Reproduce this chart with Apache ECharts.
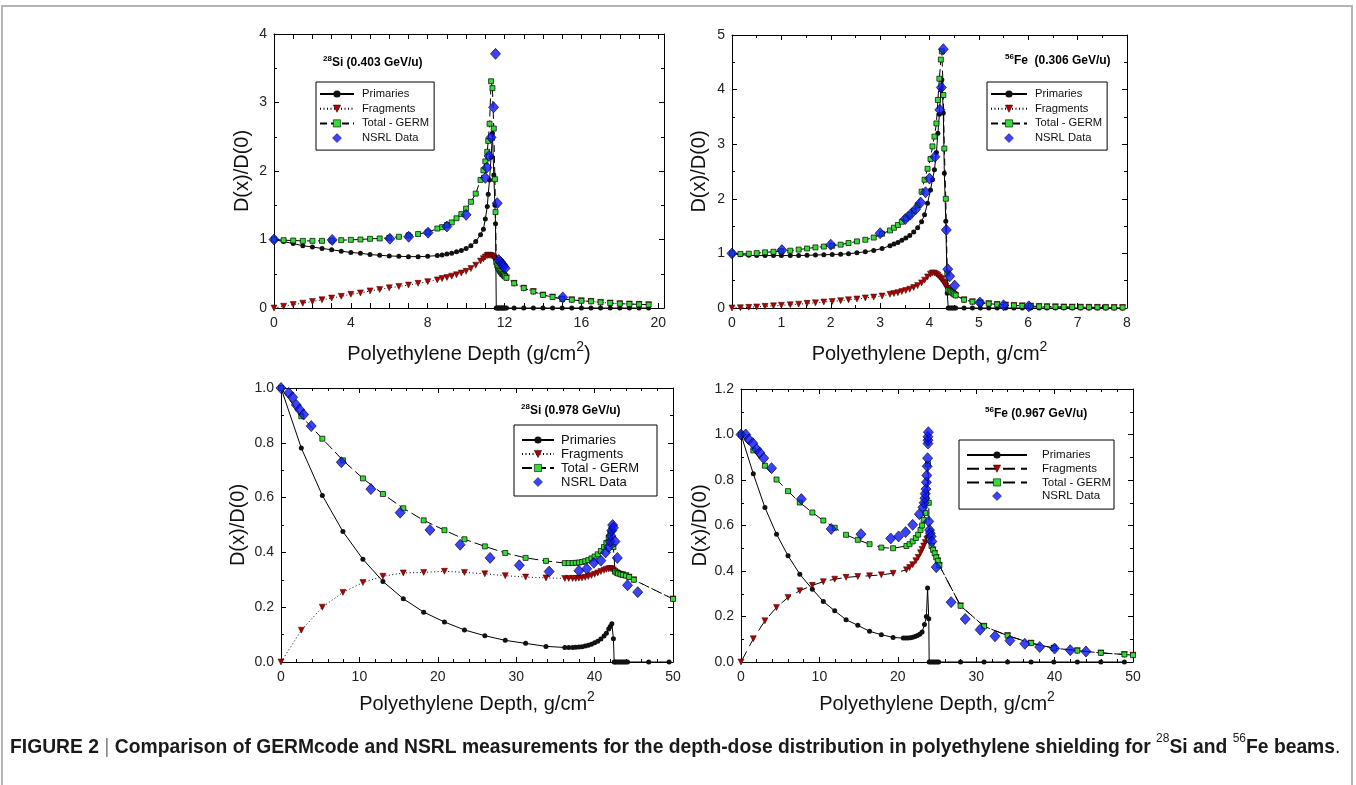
<!DOCTYPE html>
<html><head><meta charset="utf-8">
<script src="https://cdn.jsdelivr.net/npm/echarts@6/dist/echarts.min.js"></script>
<style>html,body{margin:0;padding:0;background:#fff}#c{width:1356px;height:785px}</style>
</head><body><div id="c"></div><script>
// ---------- Panel A: 28Si 0.403 GeV/u ----------
const siLowX = [0,0.5,1,1.5,2,2.5,3,3.5,4,4.5, 5,5.5,6,6.5,7,7.5,8,8.5,8.75,9, 9.25,9.5,9.75,10,10.25,10.5,10.75,10.9,11.0,11.1, 11.15,11.22,11.3,11.37,11.44,11.5,11.53,11.57, 11.62,11.67,11.72,11.77,11.82,11.87,11.92,11.97,12.02,12.1, 12.5,13,13.5,14,14.5,15,15.5,16,16.5,17, 17.5,18,18.5,19,19.5];
const siLowPrim = [1.0,0.97,0.94,0.91,0.89,0.87,0.85,0.83,0.81,0.80, 0.78,0.77,0.76,0.755,0.75,0.75,0.755,0.765,0.775,0.79, 0.80,0.82,0.84,0.87,0.91,0.97,1.07,1.15,1.30,1.48, 1.66,1.87,2.2,2.55,1.94,1.5,1.23,0, 0,0,0,0,0,0,0,0,0,0, 0,0,0,0,0,0,0,0,0,0, 0,0,0,0,0];
const siLowFrag = [0,0.025,0.05,0.07,0.095,0.12,0.145,0.17,0.2,0.22, 0.25,0.27,0.295,0.315,0.335,0.36,0.385,0.41,0.43,0.445, 0.465,0.485,0.51,0.535,0.575,0.625,0.685,0.72,0.745,0.765, 0.77,0.77,0.765,0.755,0.74,0.72,0.70,0.67, 0.62,0.59,0.56,0.54,0.52,0.50,0.49,0.475,0.46,0.44, 0.36,0.29,0.24,0.19,0.16,0.13,0.12,0.105,0.097,0.082, 0.073,0.063,0.058,0.053,0.048];
const siLowTot = [1.0,0.99,0.985,0.98,0.98,0.98,0.985,0.99,0.995,1.0, 1.01,1.015,1.025,1.04,1.06,1.08,1.105,1.16,1.18,1.21, 1.25,1.31,1.37,1.45,1.55,1.67,1.87,2.01,2.14,2.28, 2.44,2.69,3.31,3.21,2.62,1.88,1.4,0.67, 0.62,0.59,0.56,0.54,0.52,0.50,0.49,0.475,0.46,0.44, 0.36,0.29,0.24,0.19,0.16,0.13,0.12,0.105,0.097,0.082, 0.073,0.063,0.058,0.053,0.048];
const siLowNsrlX = [0,3.03,6.03,7.01,8.02,9.0,10.0,11.0,11.08,11.19,11.3,11.43,11.53,11.62,11.7,11.79,11.88,11.95,12.03,15.03];
const siLowNsrlY = [1.0,0.994,1.01,1.04,1.1,1.19,1.36,1.9,2.05,2.22,2.49,2.93,3.71,1.53,0.70,0.67,0.64,0.61,0.58,0.155];
const siLowXTicks = [0,4,8,12,16,20];
const siLowYTicks = [0,1,2,3,4];

// ---------- Panel B: 56Fe 0.306 GeV/u ----------
const feLowX = [0,0.17,0.34,0.5,0.67,0.84,1.0,1.18,1.35,1.52, 1.69,1.86,2.03,2.2,2.36,2.53,2.7,2.87,3.04,3.2, 3.28,3.36,3.44,3.52,3.6,3.68,3.76,3.84,3.9,3.96, 4.02,4.06,4.1,4.14,4.17,4.2,4.23,4.25,4.28,4.3, 4.33,4.36,4.38,4.41,4.44,4.47,4.5,4.53,4.7,4.87, 5.03,5.2,5.37,5.54,5.71,5.88,6.05,6.22,6.38,6.55, 6.72,6.89,7.06,7.23,7.4,7.57,7.74,7.91];
const feLowPrim = [1.0,0.976,0.965,0.96,0.96,0.96,0.96,0.96,0.96,0.965, 0.97,0.975,0.98,0.985,0.995,1.01,1.03,1.055,1.09,1.14, 1.17,1.2,1.24,1.28,1.33,1.39,1.47,1.58,1.71,1.92, 2.16,2.35,2.53,2.85,3.2,3.55,4.0,4.18,3.57,2.47, 1.59,0.27,0,0,0,0,0,0,0,0, 0,0,0,0,0,0,0,0,0,0, 0,0,0,0,0,0,0,0];
const feLowFrag = [0,0.005,0.012,0.02,0.03,0.04,0.05,0.06,0.07,0.085, 0.095,0.11,0.12,0.135,0.15,0.165,0.185,0.2,0.22,0.25, 0.265,0.28,0.3,0.32,0.345,0.375,0.41,0.46,0.51,0.57, 0.62,0.64,0.64,0.62,0.6,0.57,0.54,0.52,0.48,0.45, 0.4,0.36,0.33,0.31,0.29,0.27,0.25,0.23,0.15,0.115, 0.095,0.08,0.065,0.055,0.047,0.04,0.034,0.029,0.025,0.022, 0.019,0.017,0.015,0.013,0.012,0.011,0.01,0.009];
const feLowTot = [1.0,0.99,0.995,1.005,1.02,1.03,1.04,1.05,1.07,1.09, 1.11,1.125,1.14,1.16,1.19,1.22,1.25,1.29,1.36,1.42, 1.47,1.52,1.58,1.64,1.71,1.78,1.88,2.13,2.35,2.55, 2.73,2.96,3.14,3.38,3.81,4.2,4.55,4.7,3.9,2.92, 2.0,0.63,0.33,0.31,0.29,0.27,0.25,0.23,0.15,0.115, 0.095,0.08,0.065,0.055,0.047,0.04,0.034,0.029,0.025,0.022, 0.019,0.017,0.015,0.013,0.012,0.011,0.01,0.009];
const feLowNsrlX = [0,1.01,2.0,3.0,3.51,3.61,3.72,3.82,3.92,4.0,4.11,4.21,4.24,4.28,4.34,4.37,4.41,4.51,5.02,5.5,6.01];
const feLowNsrlY = [1.0,1.06,1.16,1.37,1.63,1.71,1.81,1.93,2.12,2.37,2.77,3.63,4.04,4.74,1.43,0.71,0.58,0.41,0.1,0.05,0.03];
const feLowXTicks = [0,1,2,3,4,5,6,7,8];
const feLowYTicks = [0,1,2,3,4,5];

// ---------- Panel C: 28Si 0.978 GeV/u ----------
const siHighPrimX = [0,2.59,5.27,7.9,10.45,13.0,15.6,18.2,20.85,23.4, 26.0,28.6,31.2,33.8,36.2,36.7,37.2,37.6,38.0,38.4, 38.8,39.2,39.6,40.0,40.4,40.8,41.2,41.5,41.8,42.0, 42.2,42.4,42.5,42.6,42.8,43.0,43.2,43.4,43.6,43.8, 44.0,44.2,46.9,49.5];
const siHighPrimY = [1.0,0.781,0.608,0.476,0.375,0.294,0.231,0.182,0.146,0.117, 0.096,0.079,0.068,0.057,0.053,0.053,0.053,0.054,0.055,0.056, 0.058,0.061,0.065,0.07,0.076,0.084,0.095,0.105,0.12,0.13, 0.14,0.085,0,0,0,0,0,0,0,0, 0,0,0,0];
const siHighX = [0,2.59,5.27,7.9,10.45,13.0,15.6,18.2,20.85,23.4, 26.0,28.6,31.2,33.8,36.2,36.7,37.2,37.6,38.0,38.4, 38.8,39.2,39.6,40.0,40.4,40.8,41.2,41.5,41.8,42.0, 42.2,42.4,42.6,42.8,43.0,43.3,43.6,44.0,44.4,45.0, 50];
const siHighFrag = [0,0.116,0.2,0.254,0.29,0.313,0.325,0.327,0.331,0.327, 0.322,0.315,0.31,0.307,0.305,0.305,0.305,0.305,0.306,0.307, 0.309,0.312,0.316,0.32,0.325,0.33,0.335,0.338,0.34,0.341, 0.34,0.336,0.33,0.326,0.323,0.32,0.318,0.315,0.31,0.30, 0.23];
const siHighTot = [1.0,0.897,0.815,0.736,0.670,0.613,0.561,0.517,0.481,0.448, 0.422,0.398,0.38,0.369,0.361,0.361,0.361,0.362,0.363,0.365, 0.368,0.372,0.378,0.385,0.393,0.405,0.42,0.435,0.455,0.47, 0.48,0.42,0.33,0.326,0.323,0.32,0.318,0.315,0.31,0.30, 0.23];
const siHighNsrlX = [0,0.98,1.49,1.95,2.38,2.89,3.86,7.69,11.46,15.2, 19.0,22.85,26.67,30.4,34.2,38.0,39.0,39.9,40.8,41.4, 41.8,42.0,42.1,42.2,42.3,42.4,42.6,42.9,44.2,45.5];
const siHighNsrlY = [1.0,0.982,0.966,0.938,0.921,0.903,0.861,0.729,0.631,0.545, 0.482,0.428,0.38,0.353,0.33,0.333,0.34,0.362,0.37,0.40, 0.42,0.44,0.46,0.48,0.50,0.49,0.44,0.38,0.28,0.255];
const siHighXTicks = [0,10,20,30,40,50];
const siHighYTicks = ['0.0','0.2','0.4','0.6','0.8','1.0'];

// ---------- Panel D: 56Fe 0.967 GeV/u ----------
const feHighPrimX = [0,1.57,3.05,4.53,6.0,7.5,9.1,10.5,11.95,13.4, 14.9,16.4,17.9,19.4,20.7,21.0,21.3,21.6,21.9,22.2, 22.5,22.8,23.1,23.4,23.65,23.8,23.95,24.0,24.2,24.4, 24.6,24.8,25.0,25.2,28.0,31.0,34.0,37.0,39.9,42.9, 45.9,48.9];
const feHighPrimY = [1.0,0.827,0.679,0.562,0.467,0.386,0.32,0.266,0.225,0.186, 0.161,0.135,0.12,0.108,0.105,0.105,0.106,0.107,0.109,0.112, 0.116,0.122,0.132,0.165,0.2,0.325,0.19,0,0,0, 0,0,0,0,0,0,0,0,0,0, 0,0];
const feHighFragX = [0,1.57,3.05,4.53,6.0,7.5,9.1,10.5,11.95,13.4, 14.9,16.4,17.9,19.4,21.1,21.5,21.9,22.3,22.6,22.9, 23.1,23.3,23.5,23.7,23.85,24.0,24.3,24.5,24.7,24.9, 25.1,25.3,28.0,31.0,34.0,37.0,39.9,42.9,45.9,48.9, 50];
const feHighFragY = [0,0.102,0.181,0.24,0.284,0.313,0.337,0.353,0.364,0.372, 0.376,0.379,0.383,0.39,0.405,0.415,0.428,0.445,0.46,0.48, 0.495,0.51,0.525,0.54,0.545,0.537,0.51,0.493,0.478,0.46, 0.445,0.425,0.247,0.157,0.116,0.083,0.061,0.05,0.04,0.033, 0.03];
const feHighTotX = [0,1.57,3.05,4.53,6.0,7.5,9.1,10.5,11.95,13.4, 14.9,16.4,17.9,19.4,21.1,21.5,21.9,22.3,22.6,22.9, 23.1,23.3,23.5,23.7,23.85,23.95,24.0,24.3,24.5,24.7, 24.9,25.1,25.3,28.0,31.0,34.0,37.0,39.9,42.9,45.9, 48.9,50];
const feHighTotY = [1.0,0.93,0.863,0.802,0.751,0.701,0.657,0.622,0.59,0.559, 0.537,0.518,0.503,0.5,0.51,0.518,0.53,0.545,0.56,0.58, 0.6,0.625,0.655,0.70,0.87,0.70,0.537,0.51,0.493,0.478, 0.46,0.445,0.425,0.247,0.157,0.116,0.083,0.061,0.05,0.04, 0.033,0.03];
const feHighNsrlX = [0,0.6,1.0,1.5,2.0,2.4,2.9,3.9,7.7,11.5, 15.3,19.1,20.1,21.0,21.9,22.75,23.2,23.35,23.45,23.5, 23.6,23.65,23.7,23.75,23.8,23.85,23.85,23.85,23.9,23.95, 24.05,24.15,24.25,24.35,24.9,26.8,28.6,30.5,32.4,34.3, 36.2,38.1,40.0,42.0,44.0];
const feHighNsrlY = [1.0,1.0,0.978,0.962,0.935,0.92,0.896,0.852,0.716,0.585, 0.562,0.543,0.552,0.571,0.603,0.65,0.68,0.70,0.72,0.74, 0.76,0.79,0.82,0.86,0.896,0.96,0.975,0.99,1.01,0.618, 0.58,0.566,0.552,0.53,0.417,0.263,0.189,0.142,0.113,0.094, 0.08,0.066,0.059,0.052,0.046];
const feHighXTicks = [0,10,20,30,40,50];
const feHighYTicks = ['0.0','0.2','0.4','0.6','0.8','1.0','1.2'];

const seriesNames = ['Primaries','Fragments','Total - GERM','NSRL Data'];
const titles = [['28','Si (0.403 GeV/u)'],['56','Fe  (0.306 GeV/u)'],['28','Si (0.978 GeV/u)'],['56','Fe (0.967 GeV/u)']];
const xNames = [['Polyethylene Depth (g/cm','2',')'],['Polyethylene Depth, g/cm','2',''],['Polyethylene Depth, g/cm','2',''],['Polyethylene Depth, g/cm','2','']];
const yName = 'D(x)/D(0)';
const caption = ['FIGURE 2 ','|',' Comparison of GERMcode and NSRL measurements for the depth-dose distribution in polyethylene shielding for ','28','Si and ','56','Fe beams','.'];

// ---------- build ----------
const FF = '"Liberation Sans", Arial, Helvetica, sans-serif';
const zip = (xs, ys) => xs.map((x, i) => [x, ys[i]]);
const DIAMOND = 'path://M5,0L10,5L5,10L0,5Z';

const panels = [
  {grid:{left:274, top:34, width:390, height:274}, xMax:20.3, xInt:1, xMinor:0, xTicks:siLowXTicks, yMax:4, yInt:1, yMinor:2, yTicks:siLowYTicks, yGap:22, xGap:32,
   prim:zip(siLowX, siLowPrim), frag:zip(siLowX, siLowFrag), tot:zip(siLowX, siLowTot), nsrl:zip(siLowNsrlX, siLowNsrlY),
   dashF:[1,2.5], dashT:[7,4], leg:{left:316, top:82, padding:[5,5,5,3], itemWidth:34, fs:11.2, gap:0.7, textPad:3}, title:{left:323, top:55}},
  {grid:{left:732, top:35, width:395, height:273}, xMax:8, xInt:1, xMinor:2, xTicks:feLowXTicks, yMax:5, yInt:1, yMinor:2, yTicks:feLowYTicks, yGap:23, xGap:32,
   prim:zip(feLowX, feLowPrim), frag:zip(feLowX, feLowFrag), tot:zip(feLowX, feLowTot), nsrl:zip(feLowNsrlX, feLowNsrlY),
   dashF:[1,2.5], dashT:[7,4], leg:{left:987, top:82, padding:[5,5,5,3], itemWidth:36, fs:11.2, gap:0.7, textPad:3}, title:{left:1005, top:53}},
  {grid:{left:281, top:388, width:392, height:274}, xMax:50, xInt:10, xMinor:5, xTicks:siHighXTicks, yMax:1, yInt:0.2, yMinor:2, yTicks:siHighYTicks, yGap:33, xGap:28,
   prim:zip(siHighPrimX, siHighPrimY), frag:zip(siHighX, siHighFrag), tot:zip(siHighX, siHighTot), nsrl:zip(siHighNsrlX, siHighNsrlY),
   dashF:[1,2.5], dashT:[10,4], leg:{left:514, top:425, padding:[8,18,7,7], itemWidth:32, fs:13, gap:0, textPad:2}, title:{left:521, top:403}},
  {grid:{left:741, top:389, width:392, height:273}, xMax:50, xInt:10, xMinor:5, xTicks:feHighXTicks, yMax:1.2, yInt:0.2, yMinor:2, yTicks:feHighYTicks, yGap:20, xGap:28,
   prim:zip(feHighPrimX, feHighPrimY), frag:zip(feHighFragX, feHighFragY), tot:zip(feHighTotX, feHighTotY), nsrl:zip(feHighNsrlX, feHighNsrlY),
   dashF:[12,6], dashT:[12,6], leg:{left:959, top:440, padding:[8,3,6,7], itemWidth:60, fs:11.5, gap:-0.3, textPad:10}, title:{left:985, top:406}}
];

const grids = [], xAxes = [], yAxes = [], series = [], legends = [], titleComps = [];
const black = '#000';
function fmtFactory(ticks){
  return v => {
    for (const t of ticks) { if (Math.abs(parseFloat(t) - v) < 1e-6) return String(t); }
    return '';
  };
}
panels.forEach((p, i) => {
  grids.push(Object.assign({containLabel:false}, p.grid));
  const common = {gridIndex:i, type:'value', min:0, splitLine:{show:false}, minorSplitLine:{show:false},
    axisLine:{show:true, onZero:false, lineStyle:{color:black, width:1}},
    axisTick:{show:true, inside:true, length:5, lineStyle:{color:black, width:1}}};
  const xMinor = {show:p.xMinor>0, splitNumber:p.xMinor||2, length:3, lineStyle:{color:black, width:1}};
  const yMinor = {show:p.yMinor>0, splitNumber:p.yMinor||2, length:3, lineStyle:{color:black, width:1}};
  const xn = xNames[i];
  xAxes.push(Object.assign({}, common, {position:'bottom', max:p.xMax, interval:p.xInt, minorTick:xMinor,
    axisLabel:{fontSize:14, color:'#222', fontFamily:FF, margin:8, formatter:fmtFactory(p.xTicks)},
    name:'{n|'+xn[0]+'}{s|'+xn[1]+'}{n|'+xn[2]+'}', nameLocation:'middle', nameGap:p.xGap,
    nameTextStyle:{rich:{n:{fontSize:20, fontFamily:FF, color:'#111', lineHeight:24, verticalAlign:'bottom'}, s:{fontSize:14, fontFamily:FF, color:'#111', lineHeight:14, verticalAlign:'top'}}}}));
  xAxes.push(Object.assign({}, common, {position:'top', max:p.xMax, interval:p.xInt, minorTick:xMinor, axisLabel:{show:false}}));
  yAxes.push(Object.assign({}, common, {position:'left', max:p.yMax, interval:p.yInt, minorTick:yMinor,
    axisLabel:{fontSize:14, color:'#222', fontFamily:FF, margin:7, formatter:fmtFactory(p.yTicks)},
    name:yName, nameLocation:'middle', nameGap:p.yGap, nameTextStyle:{fontSize:20, fontFamily:FF, color:'#111'}}));
  yAxes.push(Object.assign({}, common, {position:'right', max:p.yMax, interval:p.yInt, minorTick:yMinor, axisLabel:{show:false}}));

  const base = {xAxisIndex:2*i, yAxisIndex:2*i, animation:false, showAllSymbol:true, clip:true};
  series.push(Object.assign({}, base, {type:'line', name:seriesNames[0]+'#'+i, data:p.prim, symbol:'circle', symbolSize:5,
    lineStyle:{color:black, width:1}, itemStyle:{color:'#111'}, z:3}));
  series.push(Object.assign({}, base, {type:'line', name:seriesNames[1]+'#'+i, data:p.frag, symbol:'triangle', symbolRotate:180, symbolSize:6,
    lineStyle:{color:black, width:1, type:p.dashF}, itemStyle:{color:'#b00000', borderColor:'#300', borderWidth:0.5}, z:4}));
  series.push(Object.assign({}, base, {type:'line', name:seriesNames[2]+'#'+i, data:p.tot, symbol:'rect', symbolSize:5,
    lineStyle:{color:black, width:1, type:p.dashT}, itemStyle:{color:'#33dd33', borderColor:'#000', borderWidth:0.7}, z:5}));
  series.push(Object.assign({}, base, {type:'scatter', name:seriesNames[3]+'#'+i, data:p.nsrl, symbol:'diamond', symbolSize:[10,11],
    itemStyle:{color:'#0a14ff', borderColor:'#000', borderWidth:0.8}, z:6}));

  legends.push({orient:'vertical', left:p.leg.left, top:p.leg.top, padding:p.leg.padding, itemWidth:p.leg.itemWidth, itemHeight:9, itemGap:p.leg.gap,
    backgroundColor:'#fff', borderColor:black, borderWidth:1, borderRadius:0, selectedMode:false, symbolKeepAspect:true,
    itemStyle:{borderWidth:0.6},
    textStyle:{fontSize:p.leg.fs, fontFamily:FF, color:'#111', lineHeight:14, padding:[0,0,0,p.leg.textPad]},
    formatter: n => n.split('#')[0],
    data: seriesNames.map((s, k) => k === 3 ? {name:s + '#' + i, icon:DIAMOND} : s + '#' + i)});
  titleComps.push({left:p.title.left, top:p.title.top, padding:0,
    text:'{s|'+titles[i][0]+'}{t|'+titles[i][1]+'}',
    textStyle:{rich:{s:{fontSize:8, fontWeight:'bold', fontFamily:FF, color:'#000', lineHeight:8, verticalAlign:'top'},
                     t:{fontSize:12, fontWeight:'bold', fontFamily:FF, color:'#000', lineHeight:14, verticalAlign:'bottom'}}}});
});

const chart = echarts.init(document.getElementById('c'), null, {renderer:'canvas'});
chart.setOption({
  animation:false,
  backgroundColor:'#fff',
  title:titleComps,
  grid:grids, xAxis:xAxes, yAxis:yAxes, series:series, legend:legends,
  graphic:[
    {type:'rect', shape:{x:2, y:6, width:1350, height:800}, style:{fill:'none', stroke:'#b5b5b5', lineWidth:2}, silent:true},
    {type:'text', left:10, top:733, silent:true, style:{
      text:'{b|'+caption[0]+'}{bar|'+caption[1]+'}{b|'+caption[2]+'}{sup|'+caption[3]+'}{b|'+caption[4]+'}{sup|'+caption[5]+'}{b|'+caption[6]+'}{n|'+caption[7]+'}',
      rich:{b:{fontSize:19.3, fontWeight:'bold', fontFamily:FF, fill:'#1a1a1a', lineHeight:24, verticalAlign:'bottom'},
            bar:{fontSize:20, fontWeight:'normal', fontFamily:FF, fill:'#888', lineHeight:24, verticalAlign:'bottom'},
            n:{fontSize:19.3, fontFamily:FF, fill:'#1a1a1a', lineHeight:24, verticalAlign:'bottom'},
            sup:{fontSize:12, fontFamily:FF, fill:'#1a1a1a', lineHeight:14, verticalAlign:'top'}}}}
  ]
});
</script></body></html>
